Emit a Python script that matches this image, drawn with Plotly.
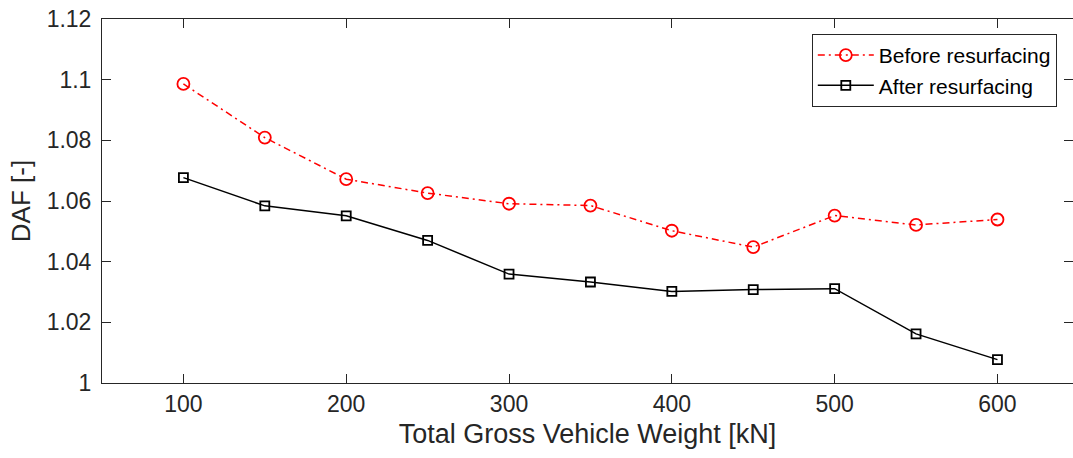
import plotly.graph_objects as go

# Total gross vehicle weight [kN]
weight_kn = [100, 150, 200, 250, 300, 350, 400, 450, 500, 550, 600]

# Dynamic amplification factor per load level
daf_before = [1.0986, 1.0809, 1.0672, 1.0626, 1.0591, 1.0585, 1.0502, 1.0448, 1.0552, 1.0521, 1.0539]
daf_after = [1.0677, 1.0584, 1.0551, 1.0470, 1.0359, 1.0333, 1.0302, 1.0308, 1.0311, 1.0162, 1.0077]

x_ticks = [100, 200, 300, 400, 500, 600]
y_ticks = [1.0, 1.02, 1.04, 1.06, 1.08, 1.1, 1.12]
y_tick_text = ["1", "1.02", "1.04", "1.06", "1.08", "1.1", "1.12"]

AX = "#262626"
FONT = "Liberation Sans, Arial, Helvetica, sans-serif"

fig = go.Figure()
fig.add_trace(go.Scatter(
    x=weight_kn, y=daf_before, name="Before resurfacing",
    mode="lines+markers",
    line=dict(color="#ff0000", width=1.5, dash="7px,4px,2px,4px"),
    marker=dict(symbol="circle-open", size=12, color="#ff0000", line=dict(width=1.8, color="#ff0000")),
))
fig.add_trace(go.Scatter(
    x=weight_kn, y=daf_after, name="After resurfacing",
    mode="lines+markers",
    line=dict(color="#000000", width=1.5),
    marker=dict(symbol="square-open", size=9, color="#000000", line=dict(width=1.8, color="#000000")),
))

axis_common = dict(
    showgrid=False, zeroline=False,
    showline=True, linecolor=AX, linewidth=1, mirror="ticks",
    ticks="inside", ticklen=9, tickcolor=AX, tickwidth=1,
    tickfont=dict(family=FONT, size=23, color=AX),
)

fig.update_layout(
    width=1073, height=458,
    margin=dict(l=102, r=0, t=19, b=75),
    paper_bgcolor="white", plot_bgcolor="white",
    font=dict(family=FONT, color=AX),
    showlegend=True,
    legend=dict(
        x=0.731, y=0.959, xanchor="left", yanchor="top",
        bgcolor="white", bordercolor=AX, borderwidth=1,
        font=dict(family=FONT, size=21, color="#000000"),
        tracegroupgap=0, itemwidth=56,
    ),
    xaxis=dict(
        axis_common, range=[50, 646.4],
        tickvals=x_ticks,
        title=dict(text="Total Gross Vehicle Weight [kN]", font=dict(family=FONT, size=27, color=AX), standoff=8),
    ),
    yaxis=dict(
        axis_common, range=[1.0, 1.12],
        tickvals=y_ticks, ticktext=y_tick_text,
        ticklabelstandoff=5,
        title=dict(text="DAF [-]", font=dict(family=FONT, size=26, color=AX), standoff=8),
    ),
)

fig.write_html("out.html")
